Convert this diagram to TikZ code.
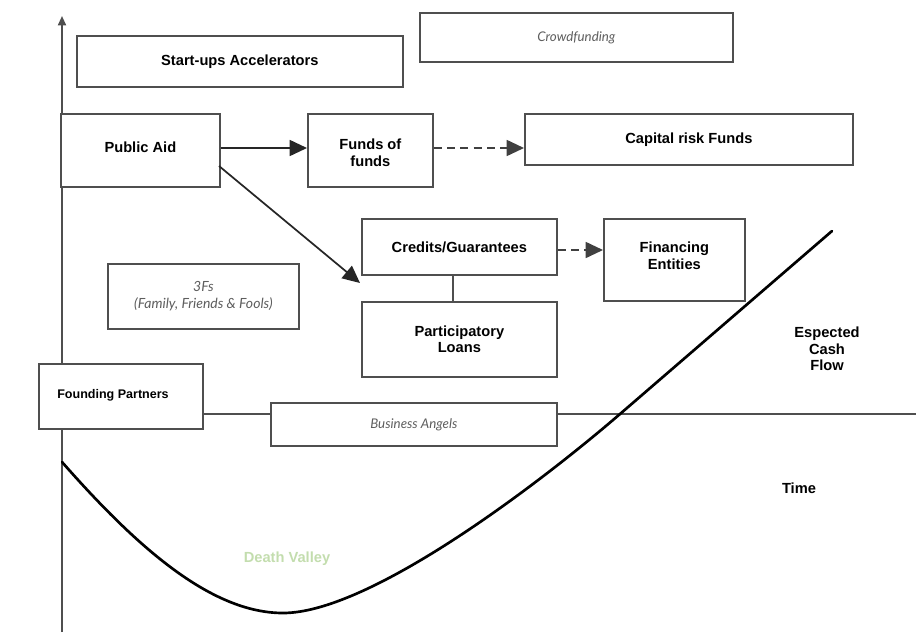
\documentclass[tikz,border=0pt]{standalone}
\usepackage{fontspec}
\setmainfont{Liberation Sans}
\newfontfamily\itfont{Lato}
\usetikzlibrary{arrows.meta}
\definecolor{boxgray}{HTML}{4F4F4F}
\definecolor{txtgray}{HTML}{5E5E5E}
\definecolor{dvgreen}{HTML}{C3DDAE}
\begin{document}
\begin{tikzpicture}[x=0.75pt,y=-0.75pt,
  bx/.style={draw=boxgray,line width=1.3pt,fill=white,inner sep=0pt,anchor=north west},
  bt/.style={font=\fontsize{11}{12.5}\selectfont\bfseries,align=center},
  gt/.style={font=\itfont\itshape\fontsize{10}{11.5}\selectfont,text=txtgray,align=center},
  big/.style={-{Triangle[length=13pt,width=12pt]}},
  conn/.style={draw=boxgray,line width=1.3pt}]
\useasboundingbox (0,0) rectangle (916,632);
% axes
\coordinate (ybot) at (62,632);
\coordinate (ytop) at (62,16);
\draw[line width=1.3pt,draw=boxgray,-{Triangle[length=7pt,width=6pt]}] (ybot) -- (ytop);
\coordinate (tend) at (916,414);
% boxes
\node[bx,minimum width=326*0.75pt,minimum height=51*0.75pt] (acc) at (76,35) {};
\node[bt] at (acc.center) {Start-ups Accelerators};
\node[bx,minimum width=313*0.75pt,minimum height=49*0.75pt] (crowd) at (419,12) {};
\node[gt] at (crowd.center) {Crowdfunding};
\node[bx,minimum width=159*0.75pt,minimum height=73*0.75pt] (pub) at (60,113) {};
\node[bt] at ([yshift=2pt]pub.center) {Public Aid};
\node[bx,minimum width=125*0.75pt,minimum height=73*0.75pt] (fof) at (307,113) {};
\node[bt] at ([yshift=-2pt]fof.center) {Funds of\\funds};
\node[bx,minimum width=328*0.75pt,minimum height=51*0.75pt] (crf) at (524,113) {};
\node[bt] at (crf.center) {Capital risk Funds};
\node[bx,minimum width=195*0.75pt,minimum height=56*0.75pt] (cred) at (361,218) {};
\node[bt] at (cred.center) {Credits/Guarantees};
\node[bx,minimum width=195*0.75pt,minimum height=75*0.75pt] (part) at (361,301) {};
\node[bt] at (part.center) {Participatory\\Loans};
\node[bx,minimum width=141*0.75pt,minimum height=82*0.75pt] (fin) at (603,218) {};
\node[bt] at ([yshift=3pt]fin.center) {Financing\\Entities};
\node[bx,minimum width=191*0.75pt,minimum height=65*0.75pt] (ff) at (107,263) {};
\node[gt,font=\itfont\itshape\fontsize{10.5}{13}\selectfont] at (ff.center) {3Fs\\(Family, Friends \& Fools)};
% time axis
\draw[conn] (202,414) -- (tend);
\draw[conn] (62,428) -- (62,632);
\node[bx,minimum width=164*0.75pt,minimum height=65*0.75pt] (fp) at (38,363) {};
\node[font=\fontsize{9.4}{11}\selectfont\bfseries] at (113,395) {Founding Partners};
\node[bx,minimum width=286*0.75pt,minimum height=43*0.75pt] (ba) at (270,402) {};
\node[gt] at (ba.center) {Business Angels};
% connectors
\draw[conn,big,draw=black!85] (pub.east |- 0,148) -- (fof.west |- 0,148);
\draw[conn,big,dash pattern=on 6pt off 4pt,draw=black!75] (fof.east |- 0,148) -- (crf.west |- 0,148);
\draw[conn,big,dash pattern=on 6pt off 4pt,draw=black!75] (cred.east |- 0,250) -- (fin.west |- 0,250);
\draw[conn,big,draw=black!85] (219,166) -- (360,283);
\draw[conn] (453,274) -- (453,301);
% curve
\draw[line width=2pt,line cap=round] (62,462) .. controls (135,545) and (210,613) .. (283,613)
  .. controls (370,613) and (540,483) .. (620,414) -- (832,231);
% labels
\node[font=\fontsize{11}{12.5}\selectfont\bfseries,text=dvgreen] at (287,559) {Death Valley};
\node[bt,font=\fontsize{11}{12.3}\selectfont\bfseries] at (827,349) {Espected\\Cash\\Flow};
\node[bt] at (799,488) {Time};
\end{tikzpicture}
\end{document}
